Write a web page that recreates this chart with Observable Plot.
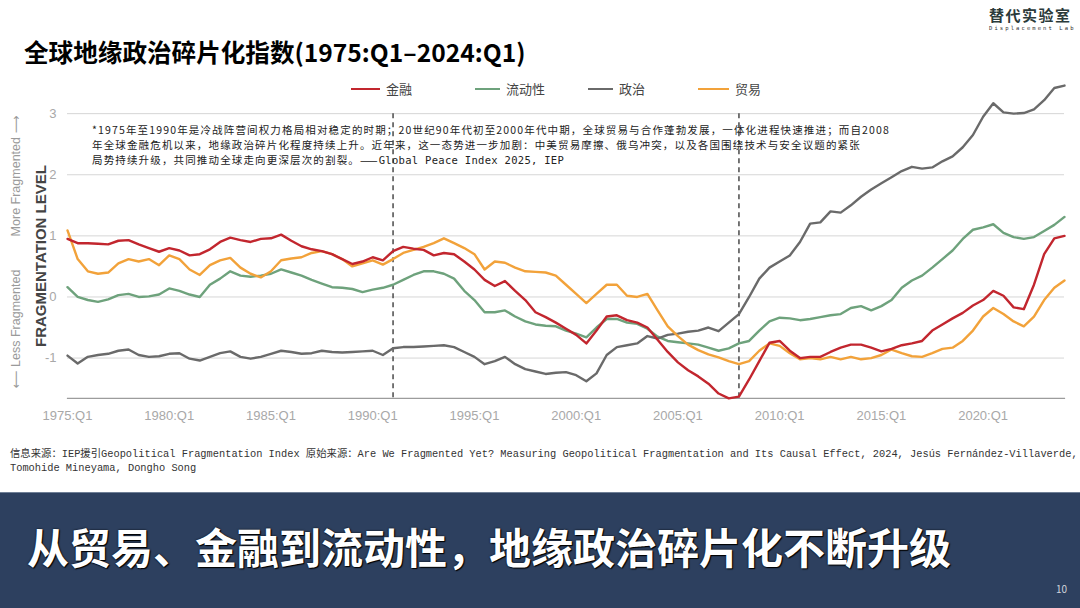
<!DOCTYPE html>
<html><head><meta charset="utf-8">
<script src="https://cdn.jsdelivr.net/npm/d3@7"></script>
<script src="https://cdn.jsdelivr.net/npm/@observablehq/plot@0.6"></script>
<style>
body{margin:0;background:#fff;}
#page{position:relative;width:1080px;height:608px;overflow:hidden;background:#fff;font-family:"Noto Sans CJK SC",sans-serif;}
.abs{position:absolute;white-space:nowrap;}
.rot{position:absolute;white-space:nowrap;transform:translate(-50%,-50%) rotate(-90deg);}
.leg{position:absolute;height:0;border-top:2.6px solid;width:28px;}
.legt{position:absolute;font-size:13px;color:#444;line-height:16px;}
#chart{position:absolute;left:0;top:70px;}
</style></head><body><div id="page">
<div class="abs" style="left:24px;top:38px;font-size:24.6px;line-height:26px;font-weight:700;color:#000;">全球地缘政治碎片化指数(1975:Q1–2024:Q1)</div>
<div class="abs" style="left:989px;top:6px;font-size:15px;line-height:17px;font-weight:700;color:#2b3a3a;letter-spacing:1.5px;">替代实验室</div>
<div class="abs" style="left:989px;top:25px;font-size:5.5px;line-height:6px;color:#333;letter-spacing:2.1px;font-family:'DejaVu Sans Mono';">Displacement Lab</div>
<div id="legend"></div>
<div id="chart"></div>
<div class="abs" style="left:92px;top:122px;font-size:10.5px;line-height:15.2px;letter-spacing:1.15px;color:#222;">
<div>*1975年至1990年是冷战阵营间权力格局相对稳定的时期；20世纪90年代初至2000年代中期，全球贸易与合作蓬勃发展，一体化进程快速推进；而自2008</div>
<div>年全球金融危机以来，地缘政治碎片化程度持续上升。近年来，这一态势进一步加剧：中美贸易摩擦、俄乌冲突，以及各国围绕技术与安全议题的紧张</div>
<div>局势持续升级，共同推动全球走向更深层次的割裂。——<span style="font-family:'DejaVu Sans Mono';font-size:10.5px;letter-spacing:0.3px;">Global Peace Index 2025, IEP</span></div>
</div>
<div class="rot" style="left:40px;top:256px;font-size:15px;font-weight:700;color:#444;font-family:'Liberation Sans',Arial,sans-serif;">FRAGMENTATION LEVEL</div>
<div class="rot" style="left:15px;top:176px;font-size:12.5px;color:#9a9a9a;font-family:'Liberation Sans',Arial,sans-serif;">More Fragmented <span style="font-family:'DejaVu Sans'">⟶</span></div>
<div class="rot" style="left:15px;top:329px;font-size:12.5px;color:#9a9a9a;font-family:'Liberation Sans',Arial,sans-serif;"><span style="font-family:'DejaVu Sans'">⟵</span> Less Fragmented</div>
<div class="abs" style="left:10px;top:447px;font-size:10.35px;line-height:14px;color:#333;font-family:'Liberation Mono','Noto Sans CJK SC',monospace;">
<div>信息来源：IEP援引Geopolitical Fragmentation Index 原始来源：Are We Fragmented Yet? Measuring Geopolitical Fragmentation and Its Causal Effect, 2024, Jesús Fernández-Villaverde,</div>
<div>Tomohide Mineyama, Dongho Song</div>
</div>
<div class="abs" style="left:0;top:492px;width:1080px;height:116px;background:#2d405f;border-top:1px solid #6f7f96;"></div>
<div class="abs" style="left:27px;top:522px;font-size:42px;line-height:48px;font-weight:700;color:#fff;text-shadow:0 0 2px #000,1px 1px 1px #000;">从贸易、金融到流动性，地缘政治碎片化不断升级</div>
<div class="abs" style="left:1056px;top:581px;font-size:10px;color:#d0d4dc;">10</div>
</div>
<script>
// time index: half-year steps from 1975:Q1 to 2024:Q1
const halfYears = d3.range(1975, 2024.001, 0.5);

const seriesNames = ["金融", "流动性", "政治", "贸易"];
const seriesColors = ["#c2262e", "#6ea27c", "#6a6a6a", "#f2a23a"];

const finance = [
  0.95, 0.88, 0.88, 0.87, 0.86, 0.92, 0.93, 0.86, 0.80, 0.74,
  0.80, 0.76, 0.68, 0.70, 0.78, 0.90, 0.97, 0.93, 0.90, 0.95,
  0.96, 1.02, 0.92, 0.83, 0.78, 0.75, 0.70, 0.62, 0.54, 0.58,
  0.65, 0.60, 0.75, 0.82, 0.79, 0.77, 0.68, 0.72, 0.70, 0.58,
  0.45, 0.28, 0.18, 0.26, 0.10, -0.05, -0.25, -0.33, -0.42, -0.52,
  -0.62, -0.76, -0.55, -0.32, -0.30, -0.38, -0.42, -0.50, -0.70, -0.90,
  -1.07, -1.20, -1.30, -1.42, -1.58, -1.66, -1.63, -1.35, -1.05, -0.75,
  -0.72, -0.88, -1.00, -0.98, -0.98, -0.90, -0.83, -0.78, -0.78, -0.83,
  -0.89, -0.85, -0.79, -0.76, -0.72, -0.55, -0.45, -0.35, -0.26, -0.14,
  -0.05, 0.10, 0.02, -0.17, -0.20, 0.20, 0.70, 0.96, 1.00
];
const liquidity = [
  0.16, 0.00, -0.05, -0.08, -0.04, 0.03, 0.05, 0.00, 0.01, 0.04,
  0.14, 0.10, 0.04, 0.00, 0.20, 0.30, 0.42, 0.35, 0.33, 0.35,
  0.38, 0.45, 0.40, 0.35, 0.28, 0.22, 0.16, 0.15, 0.13, 0.08,
  0.12, 0.15, 0.20, 0.28, 0.36, 0.42, 0.42, 0.38, 0.30, 0.10,
  -0.05, -0.25, -0.25, -0.22, -0.32, -0.40, -0.45, -0.47, -0.48, -0.55,
  -0.60, -0.66, -0.50, -0.36, -0.36, -0.42, -0.44, -0.52, -0.65, -0.72,
  -0.74, -0.76, -0.78, -0.83, -0.88, -0.84, -0.76, -0.72, -0.55, -0.40,
  -0.34, -0.35, -0.38, -0.36, -0.33, -0.30, -0.28, -0.18, -0.15, -0.22,
  -0.15, -0.05, 0.15, 0.27, 0.35, 0.48, 0.62, 0.76, 0.95, 1.10,
  1.14, 1.19, 1.05, 0.98, 0.95, 0.98, 1.08, 1.18, 1.31
];
const politics = [
  -0.96, -1.09, -0.98, -0.95, -0.93, -0.88, -0.86, -0.95, -0.98, -0.97,
  -0.93, -0.92, -1.01, -1.04, -0.98, -0.92, -0.89, -0.98, -1.01, -0.98,
  -0.93, -0.88, -0.90, -0.93, -0.92, -0.88, -0.90, -0.91, -0.90, -0.89,
  -0.88, -0.95, -0.84, -0.82, -0.82, -0.81, -0.80, -0.79, -0.82, -0.90,
  -0.98, -1.10, -1.05, -0.98, -1.10, -1.18, -1.22, -1.26, -1.24, -1.23,
  -1.28, -1.38, -1.25, -0.95, -0.82, -0.79, -0.76, -0.64, -0.68, -0.62,
  -0.60, -0.57, -0.55, -0.50, -0.56, -0.42, -0.28, 0.00, 0.30, 0.48,
  0.58, 0.68, 0.90, 1.20, 1.22, 1.40, 1.38, 1.50, 1.64, 1.76,
  1.86, 1.96, 2.06, 2.13, 2.10, 2.12, 2.22, 2.30, 2.45, 2.65,
  2.95, 3.17, 3.02, 3.00, 3.01, 3.07, 3.22, 3.42, 3.46
];
const trade = [
  1.09, 0.62, 0.42, 0.38, 0.40, 0.55, 0.62, 0.58, 0.62, 0.52,
  0.68, 0.62, 0.45, 0.36, 0.52, 0.60, 0.64, 0.48, 0.38, 0.32,
  0.42, 0.60, 0.63, 0.65, 0.72, 0.75, 0.70, 0.62, 0.50, 0.55,
  0.60, 0.53, 0.62, 0.72, 0.77, 0.82, 0.88, 0.96, 0.88, 0.80,
  0.70, 0.45, 0.58, 0.56, 0.48, 0.42, 0.41, 0.40, 0.35, 0.20,
  0.05, -0.10, 0.05, 0.20, 0.20, 0.02, 0.00, 0.05, -0.22, -0.48,
  -0.64, -0.78, -0.87, -0.94, -0.99, -1.05, -1.10, -1.05, -0.88, -0.76,
  -0.80, -0.92, -1.02, -1.00, -1.02, -0.98, -1.02, -0.98, -1.02, -1.00,
  -0.95, -0.86, -0.92, -0.97, -0.98, -0.92, -0.85, -0.83, -0.72, -0.55,
  -0.32, -0.18, -0.28, -0.40, -0.48, -0.32, -0.05, 0.15, 0.27
];

const xTickYears = [1975, 1980, 1985, 1990, 1995, 2000, 2005, 2010, 2015, 2020];
const yTicks = [-1, 0, 1, 2, 3];
const eventYears = [1991, 2008];   // end of Cold War, global financial crisis
const yDomain = [-1.66, 3.5];

const seriesValues = [finance, liquidity, politics, trade];
const rows = [];
// draw order: liquidity, politics, trade, finance
[1, 2, 3, 0].forEach(k => {
  seriesValues[k].forEach((v, i) => rows.push({t: halfYears[i], v, key: seriesNames[k]}));
});

// legend
const legendPos = [[351, 386], [475, 506], [588, 619], [698, 735]];
const legend = document.getElementById("legend");
seriesNames.forEach((n, i) => {
  const l = document.createElement("div");
  l.className = "leg";
  l.style.left = legendPos[i][0] + "px";
  l.style.top = "88px";
  l.style.borderColor = seriesColors[i];
  l.style.width = (legendPos[i][1] - legendPos[i][0] - 6) + "px";
  legend.appendChild(l);
  const t = document.createElement("div");
  t.className = "legt";
  t.style.left = legendPos[i][1] + "px";
  t.style.top = "81px";
  t.textContent = n;
  legend.appendChild(t);
});

const chart = Plot.plot({
  width: 1080,
  height: 370,
  marginTop: 12.6,
  marginBottom: 42.1,
  marginLeft: 67,
  marginRight: 16,
  x: {domain: [1975, 2024]},
  y: {domain: yDomain},
  color: {domain: seriesNames, range: seriesColors},
  style: {background: "transparent", fontFamily: "'Liberation Sans', Arial, sans-serif", fontSize: "13px", overflow: "visible"},
  marks: [
    Plot.gridY(yTicks, {stroke: "#d6d6d6", strokeOpacity: 1, strokeWidth: 1}),
    Plot.frame({anchor: "bottom", stroke: "#9c9c9c", strokeWidth: 1.2}),
    Plot.ruleX(eventYears, {y1: 3, y2: yDomain[0], stroke: "#4a4a4a", strokeWidth: 1.5, strokeDasharray: "5,4"}),
    Plot.axisY(yTicks, {tickSize: 0, tickPadding: 11, fill: "#a8a8a8", tickFormat: d => String(d), label: null}),
    Plot.axisX(xTickYears, {tickSize: 0, tickPadding: 12, fill: "#a8a8a8", tickFormat: d => d + ":Q1", label: null}),
    Plot.line(rows, {x: "t", y: "v", z: "key", stroke: "key", strokeWidth: 2.4, strokeLinejoin: "round"})
  ]
});
document.getElementById("chart").appendChild(chart);
</script>
</body></html>
